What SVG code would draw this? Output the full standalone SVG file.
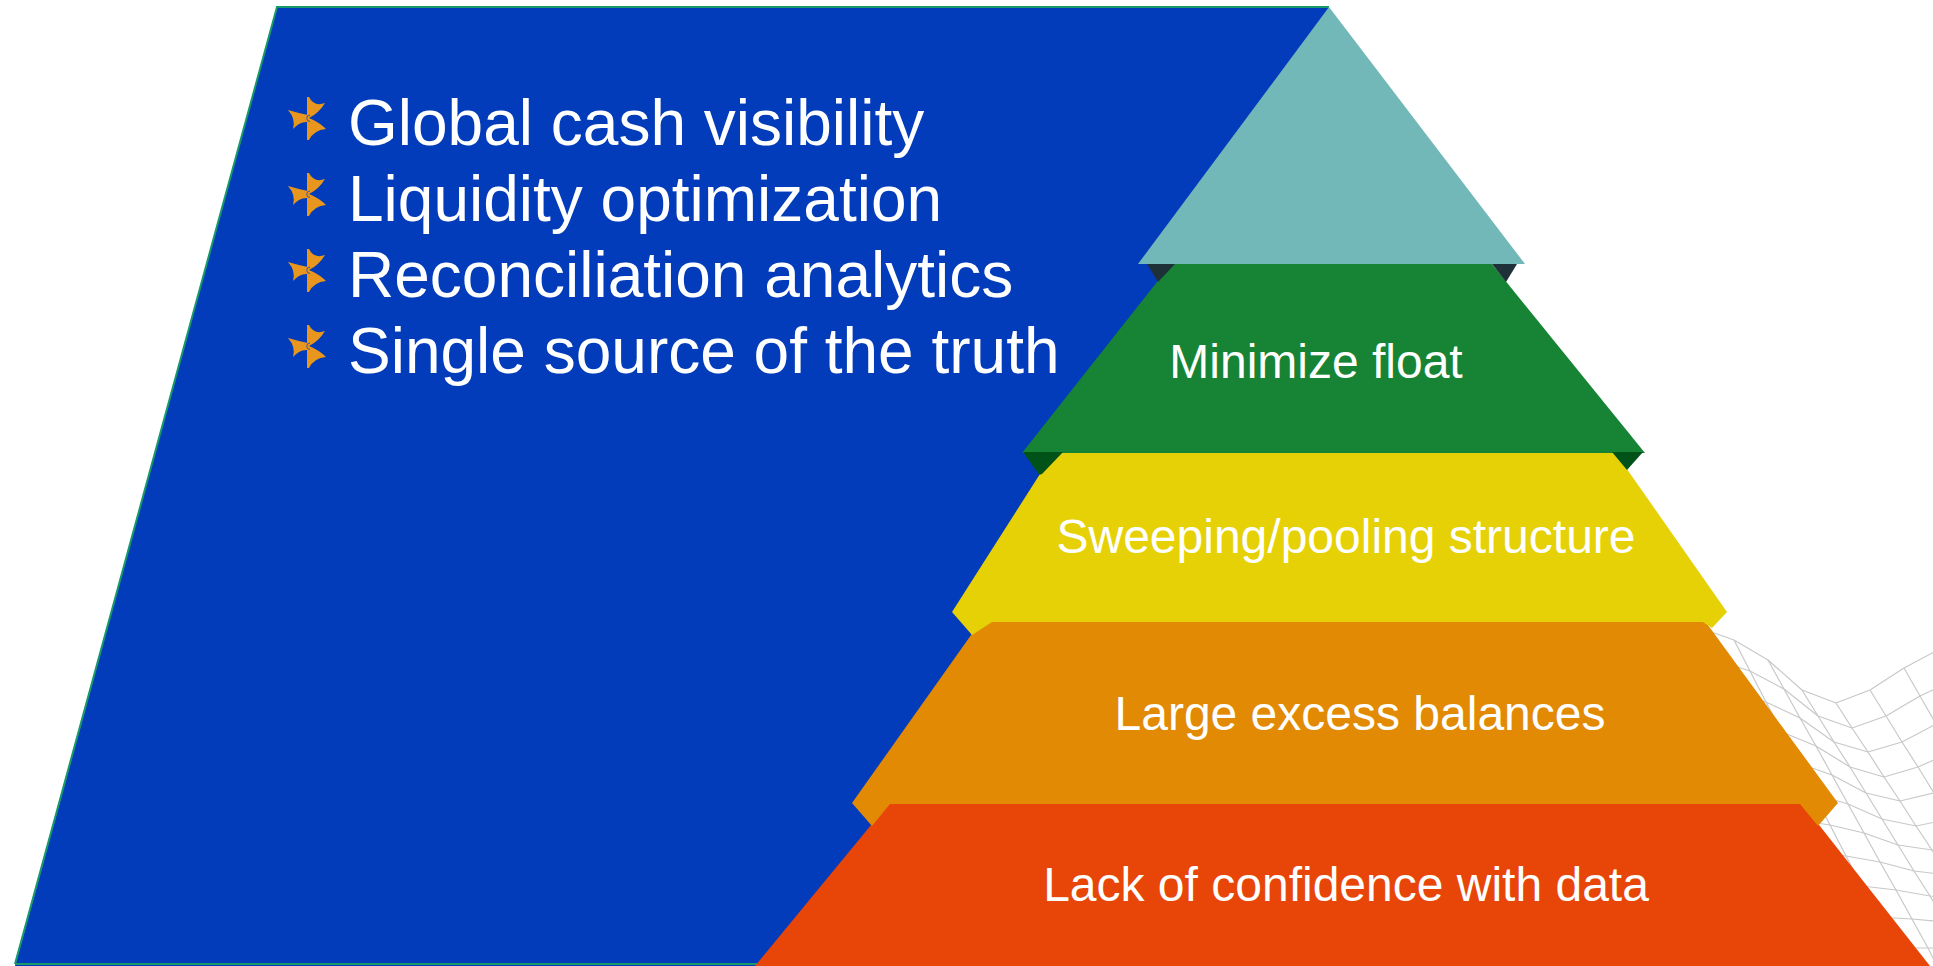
<svg xmlns="http://www.w3.org/2000/svg" width="1933" height="966" viewBox="0 0 1933 966">
  <style>
    .mesh { fill: none; stroke: #c8c8c8; stroke-width: 1.2; stroke-linejoin: round; }
    .bullet { font-family: "Liberation Sans", Arial, sans-serif; font-size: 64px; fill: #ffffff; }
    .label { font-family: "Liberation Sans", Arial, sans-serif; font-size: 48px; fill: #ffffff; text-anchor: middle; }
    .star { fill: #e8961e; }
  </style>
  <defs>
    <g id="starIcon">
      <path class="star" d="M0,-21 L2,-21 Q7,-11 18,-15 Q12,-5 2,0 L0,0 Z"/>
      <path class="star" d="M0,22 L2,22 Q7,12 19,11 Q12,4 2,0 L0,0 Z"/>
      <path class="star" d="M1,-3 Q-9,-5 -19,-8 Q-11,1 -14,11 Q-7,3 1,4 Z"/>
      <rect x="0" y="-21" width="2" height="43" fill="#e8961e"/>
      <path d="M3,-3 A3.2,3.2 0 0 0 3,3.5" fill="none" stroke="#3a55a8" stroke-width="1"/>
    </g>
  </defs>

  <g id="background-panel">
    <polygon points="277,7 1329,7 1329,966 15,966" fill="#033cba"/>
    <polyline points="15,964 277,7 1329,7" fill="none" stroke="#17996a" stroke-width="2"/>
    <line x1="15" y1="964" x2="760" y2="964" stroke="#17996a" stroke-width="2"/>
  </g>

  <g id="wireframe">
    <polyline class="mesh" points="1700,628 1734,640 1768,660 1802,690 1836,703 1870,690 1904,668 1938,650 1972,640"/>
    <polyline class="mesh" points="1716,660 1750,671 1784,689 1818,716 1852,728 1886,716 1920,696 1954,680"/>
    <polyline class="mesh" points="1732,692 1766,702 1800,718 1834,742 1868,752 1902,742 1936,724 1970,710"/>
    <polyline class="mesh" points="1748,724 1782,732 1816,746 1850,767 1884,777 1918,767 1952,752"/>
    <polyline class="mesh" points="1764,756 1798,763 1832,775 1866,793 1900,801 1934,793 1968,780"/>
    <polyline class="mesh" points="1780,788 1814,794 1848,804 1882,819 1916,826 1950,819"/>
    <polyline class="mesh" points="1796,820 1830,825 1864,833 1898,845 1932,850 1966,845"/>
    <polyline class="mesh" points="1812,852 1846,856 1880,862 1914,871 1948,875"/>
    <polyline class="mesh" points="1828,884 1862,886 1896,890 1930,896 1964,899"/>
    <polyline class="mesh" points="1844,916 1878,917 1912,919 1946,922"/>
    <polyline class="mesh" points="1860,948 1894,948 1928,948 1962,948"/>
    <polyline class="mesh" points="1700,628 1716,660 1732,692 1748,724 1764,756 1780,788 1796,820 1812,852 1828,884 1844,916 1860,948 1876,980"/>
    <polyline class="mesh" points="1734,640 1750,671 1766,702 1782,732 1798,763 1814,794 1830,825 1846,856 1862,886 1878,917 1894,948 1910,980"/>
    <polyline class="mesh" points="1768,660 1784,689 1800,718 1816,746 1832,775 1848,804 1864,833 1880,862 1896,890 1912,919 1928,948 1944,980"/>
    <polyline class="mesh" points="1802,690 1818,716 1834,742 1850,767 1866,793 1882,819 1898,845 1914,871 1930,896 1946,922 1962,948"/>
    <polyline class="mesh" points="1836,703 1852,728 1868,752 1884,777 1900,801 1916,826 1932,850 1948,875 1964,899"/>
    <polyline class="mesh" points="1870,690 1886,716 1902,742 1918,767 1934,793 1950,819 1966,845"/>
    <polyline class="mesh" points="1904,668 1920,696 1936,724 1952,752 1968,780"/>
    <polyline class="mesh" points="1938,650 1954,680 1970,710"/>
  </g>

  <g id="bullets">
    <use href="#starIcon" x="307" y="118"/>
    <use href="#starIcon" x="307" y="194"/>
    <use href="#starIcon" x="307" y="270"/>
    <use href="#starIcon" x="307" y="346"/>
    <text class="bullet" x="348" y="145">Global cash visibility</text>
    <text class="bullet" x="348" y="221">Liquidity optimization</text>
    <text class="bullet" x="348" y="297">Reconciliation analytics</text>
    <text class="bullet" x="348" y="373">Single source of the truth</text>
  </g>

  <g id="layer-red">
    <polygon points="890,802 1801,802 1930,966 755,966" fill="#e84508"/>
    <text class="label" x="1346" y="901">Lack of confidence with data</text>
  </g>

  <g id="layer-orange">
    <polygon points="981,621 1705,621 1838,803 1818,826 1800,804 890,804 872,826 852,803" fill="#e28a04"/>
    <text class="label" x="1360" y="730">Large excess balances</text>
  </g>

  <g id="layer-yellow">
    <polygon points="1054,452 1615,452 1727,612 1712,628 1703,622 992,622 972,635 952,612" fill="#e6d106"/>
    <text class="label" x="1346" y="553">Sweeping/pooling structure</text>
  </g>

  <g id="layer-green">
    <polygon points="1172,263 1491,263 1645,453 1022,453" fill="#168434"/>
    <path d="M1023,452 L1063,452 L1043,473 Q1040,476 1038,473 Z" fill="#005218"/>
    <polygon points="1612,452 1643,452 1627,470" fill="#005218"/>
    <text class="label" x="1316" y="378">Minimize float</text>
  </g>

  <g id="layer-teal">
    <polygon points="1329,7 1525,264 1138,264" fill="#72b8b8"/>
    <polygon points="1147,264 1175,264 1158,282" fill="#1e3038"/>
    <polygon points="1492,264 1517,264 1506,282" fill="#1e3038"/>
  </g>
</svg>
